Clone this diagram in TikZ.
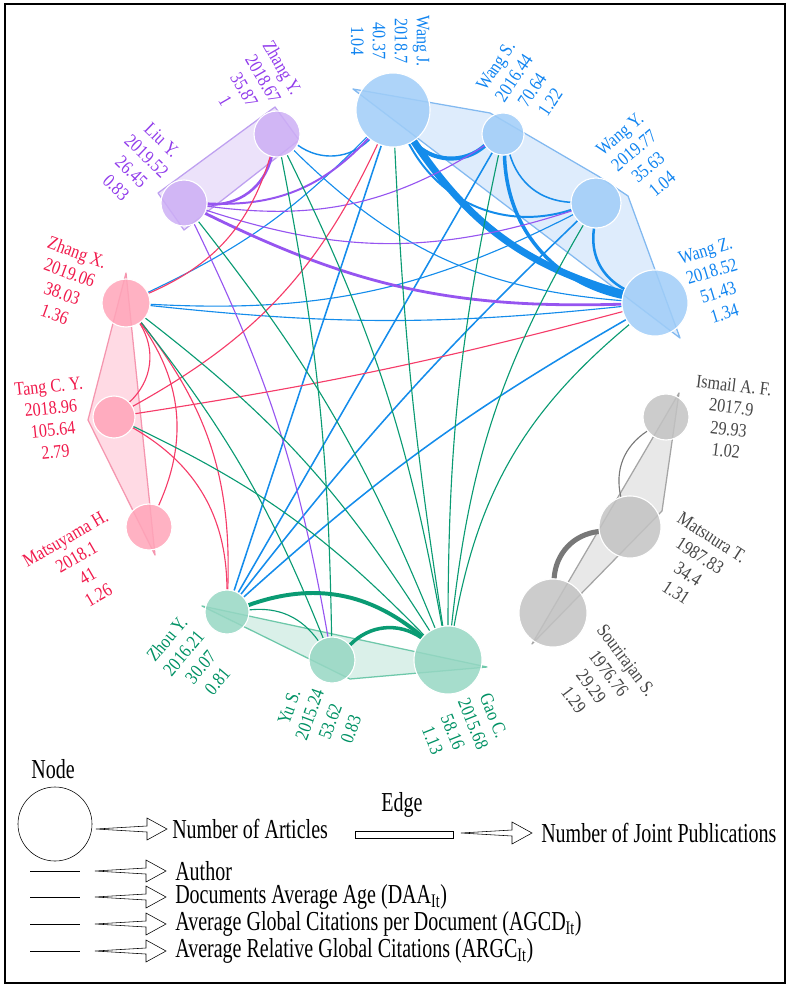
\documentclass[tikz,border=0pt]{standalone}
\usepackage{fontspec}
\setmainfont{Liberation Serif}
\newfontfamily\labfont[FakeStretch=0.85]{Liberation Serif}
\newfontfamily\legfont[FakeStretch=0.73]{Liberation Serif}
\pgfdeclarelayer{back}
\pgfsetlayers{back,main}
\definecolor{btext}{RGB}{16,132,240}
\definecolor{bfill}{RGB}{160,205,248}
\definecolor{bhull}{RGB}{222,236,252}
\definecolor{bline}{RGB}{130,185,240}
\definecolor{bedgec}{RGB}{20,140,235}
\definecolor{ptext}{RGB}{145,60,235}
\definecolor{pfill}{RGB}{205,175,245}
\definecolor{phull}{RGB}{236,226,250}
\definecolor{pline}{RGB}{190,160,240}
\definecolor{pedgec}{RGB}{150,85,240}
\definecolor{rtext}{RGB}{240,25,75}
\definecolor{rfill}{RGB}{255,165,185}
\definecolor{rhull}{RGB}{255,218,228}
\definecolor{rline}{RGB}{245,150,175}
\definecolor{redgec}{RGB}{245,60,105}
\definecolor{gtext}{RGB}{0,145,100}
\definecolor{gfill}{RGB}{150,215,195}
\definecolor{ghull}{RGB}{218,240,233}
\definecolor{gline}{RGB}{110,200,170}
\definecolor{gedgec}{RGB}{10,155,115}
\definecolor{ytext}{RGB}{70,70,70}
\definecolor{yfill}{RGB}{195,195,195}
\definecolor{yhull}{RGB}{232,232,232}
\definecolor{yline}{RGB}{165,165,165}
\definecolor{yedgec}{RGB}{120,120,120}
\newcommand\legarrow[2]{\draw (#1,#2) -- ++(51,-3) -- ++(0,-8) -- ++(20,11) -- ++(-20,11) -- ++(0,-8) -- cycle;}
\begin{document}
\begin{tikzpicture}[x=0.025cm,y=-0.025cm,
  author/.style={circle,inner sep=0pt,draw=white,line width=0.8pt,fill opacity=0.85},
  lab/.style={font=\labfont\fontsize{13.5}{15.6}\selectfont,align=center,inner sep=0pt},
  legtext/.style={font=\legfont\fontsize{19.5}{22}\selectfont,inner sep=0pt},
  hull/.style={line width=0.9pt,line join=round},
  bedge/.style={draw=bedgec,line width=0.8pt},
  pedge/.style={draw=pedgec,line width=0.8pt},
  redge/.style={draw=redgec,line width=0.8pt},
  gedge/.style={draw=gedgec,line width=0.8pt},
  yedge/.style={draw=yedgec,line width=0.8pt}]
\useasboundingbox (0,0) rectangle (789,992);
\draw[line width=1.3pt] (5,4) rectangle (785,983);

\node[author,fill=bfill,minimum size=1.85cm] (wj) at (393,110) {};
\node[author,fill=bfill,minimum size=1.05cm] (ws) at (503,134) {};
\node[author,fill=bfill,minimum size=1.25cm] (wy) at (596,203) {};
\node[author,fill=bfill,minimum size=1.65cm] (wz) at (655,303) {};
\node[author,fill=yfill,minimum size=1.15cm] (ism) at (666,417) {};
\node[author,fill=yfill,minimum size=1.55cm] (mtr) at (630,527) {};
\node[author,fill=yfill,minimum size=1.7cm] (sou) at (553,613) {};
\node[author,fill=gfill,minimum size=1.7cm] (gao) at (448,660) {};
\node[author,fill=gfill,minimum size=1.15cm] (yu) at (332,660) {};
\node[author,fill=gfill,minimum size=1.1cm] (zh) at (227,612) {};
\node[author,fill=rfill,minimum size=1.15cm] (mty) at (149,527) {};
\node[author,fill=rfill,minimum size=1.05cm] (tang) at (114,417) {};
\node[author,fill=rfill,minimum size=1.2cm] (zx) at (126,303) {};
\node[author,fill=pfill,minimum size=1.15cm] (liu) at (184,203) {};
\node[author,fill=pfill,minimum size=1.15cm] (zy) at (277,134) {};

\node[lab,text=btext,rotate=-90] (wjl) at (390,41) {Wang J.\\2018.7\\40.37\\1.04};
\node[lab,text=btext,rotate=56] (wsl) at (523,84) {Wang S.\\2016.44\\70.64\\1.22};
\node[lab,text=btext,rotate=40] (wyl) at (641,159) {Wang Y.\\2019.77\\35.63\\1.04};
\node[lab,text=btext,rotate=17] (wzl) at (715,282) {Wang Z.\\2018.52\\51.43\\1.34};
\node[lab,text=ytext,rotate=-7] (isml) at (730,418) {Ismail A. F.\\2017.9\\29.93\\1.02};
\node[lab,text=ytext,rotate=-33] (mtrl) at (694,565) {Matsuura T.\\1987.83\\34.4\\1.31};
\node[lab,text=ytext,rotate=-53] (soul) at (600,680) {Sourirajan S.\\1976.76\\29.29\\1.29};
\node[lab,text=gtext,rotate=-68] (gaol) at (463,728) {Gao C.\\2015.68\\58.16\\1.13};
\node[lab,text=gtext,rotate=70] (yul) at (320,718) {Yu S.\\2015.24\\53.62\\0.83};
\node[lab,text=gtext,rotate=50] (zhl) at (192,660) {Zhou Y.\\2016.21\\30.07\\0.81};
\node[lab,text=rtext,rotate=30] (mtyl) at (82,567) {Matsuyama H.\\2018.1\\41\\1.26};
\node[lab,text=rtext,rotate=6] (tangl) at (52,419) {Tang C. Y.\\2018.96\\105.64\\2.79};
\node[lab,text=rtext,rotate=-20] (zxl) at (66,283) {Zhang X.\\2019.06\\38.03\\1.36};
\node[lab,text=ptext,rotate=-44] (liul) at (139,164) {Liu Y.\\2019.52\\26.45\\0.83};
\node[lab,text=ptext,rotate=-60] (zyl) at (254,84) {Zhang Y.\\2018.67\\35.87\\1};

\begin{pgfonlayer}{back}
\filldraw[hull,fill=bhull,draw=bline] (353,89) -- (490,113) -- (598,176) -- (628,196) -- (680,338) -- cycle;
\filldraw[hull,fill=phull,draw=pline] (158,193) -- (275,107) -- (299,140) -- (184,230) -- cycle;
\filldraw[hull,fill=rhull,draw=rline] (126,273) -- (155,555) -- (88,420) -- cycle;
\filldraw[hull,fill=ghull,draw=gline] (202,606) -- (487,667) -- (350,679) -- cycle;
\filldraw[hull,fill=yhull,draw=yline] (679,393) -- (662,511) -- (532,644) -- cycle;

\draw[bedge,line width=2.9pt] (wj) to[bend right=45] (ws);
\draw[bedge,line width=1.4pt] (wj) to[bend right=40] (wy);
\draw[bedge,line width=5pt] (wj) to[bend right=20] (wz);
\draw[bedge,line width=1.1pt] (ws) to[bend right=35] (wy);
\draw[bedge,line width=2.5pt] (ws) to[bend right=38] (wz);
\draw[bedge,line width=1.8pt] (wy) to[bend right=35] (wz);
\draw[bedge,line width=1pt] (zy) to[bend right=40] (wj);
\draw[bedge] (zx) to[bend right=10] (wj);
\draw[bedge] (zx) to[bend right=15] (wy);
\draw[bedge] (zx) to[bend right=6] (wz);
\draw[bedge] (zy) to[bend right=20] (wz);
\draw[bedge,line width=1.1pt] (zh) -- (wj);
\draw[bedge,line width=1.1pt] (zh) -- (ws);
\draw[bedge,line width=1.1pt] (zh) to[bend left=4] (wy);
\draw[bedge,line width=1.1pt] (zh) to[bend left=6] (wz);

\draw[pedge,line width=1.8pt] (liu) to[bend right=40] (zy);
\draw[pedge,line width=1.4pt] (liu) to[bend right=25] (wj);
\draw[pedge] (liu) to[bend right=20] (ws);
\draw[pedge] (liu) to[bend right=18] (wy);
\draw[pedge,line width=2pt] (liu) to[bend right=14] (wz);
\draw[pedge] (liu) to[bend left=8] (yu);

\draw[redge] (zx) to[bend right=25] (zy);
\draw[redge] (tang) to[bend right=18] (wj);
\draw[redge] (tang) to[bend right=3] (wz);
\draw[redge] (tang) to[bend right=40] (zx);
\draw[redge] (zx) to[bend left=30] (mty);
\draw[redge] (zx) to[bend left=20] (zh);
\draw[redge] (tang) to[bend left=30] (zh);

\draw[gedge,line width=2.8pt] (zh) to[bend left=30] (gao);
\draw[gedge,line width=2.5pt] (yu) to[bend left=40] (gao);
\draw[gedge] (zh) to[bend left=30] (yu);
\draw[gedge] (gao) to[bend left=3] (wj);
\draw[gedge] (gao) to[bend left=6] (ws);
\draw[gedge] (gao) to[bend left=12] (wy);
\draw[gedge] (gao) to[bend left=20] (wz);
\draw[gedge] (gao) to[bend right=8] (zy);
\draw[gedge] (gao) to[bend right=8] (liu);
\draw[gedge] (gao) to[bend right=10] (zx);
\draw[gedge] (tang) to[bend left=10] (gao);
\draw[gedge] (yu) to[bend right=5] (zy);
\draw[gedge] (yu) to[bend right=8] (zx);

\draw[yedge] (ism) to[bend right=35] (mtr);
\draw[yedge,line width=3.6pt] (mtr) to[bend right=40] (sou);
\end{pgfonlayer}

\node[legtext] (nodet) at (53,769) {Node};
\node[draw,circle,inner sep=0pt,minimum size=1.85cm] (legc) at (55,824) {};
\legarrow{96}{829}
\node[legtext,anchor=west] (art) at (172,829) {Number of Articles};
\node[legtext] (edget) at (402,805) {Edge};
\node[draw,inner sep=0pt,minimum width=2.45cm,minimum height=0.18cm] (legr) at (404,835) {};
\legarrow{461}{833}
\node[legtext,anchor=west] (jp) at (541,833) {Number of Joint Publications};
\draw (30,871) -- (80,871);
\legarrow{95}{871}
\node[legtext,anchor=west] (aut) at (175,871) {Author};
\draw (30,897) -- (80,897);
\legarrow{95}{897}
\node[legtext,anchor=west] (daa) at (175,897) {Documents Average Age (DAA\textsubscript{It})};
\draw (30,924) -- (80,924);
\legarrow{95}{924}
\node[legtext,anchor=west] (agcd) at (175,924) {Average Global Citations per Document (AGCD\textsubscript{It})};
\draw (30,951) -- (80,951);
\legarrow{95}{951}
\node[legtext,anchor=west] (argc) at (175,951) {Average Relative Global Citations (ARGC\textsubscript{It})};
\end{tikzpicture}
\end{document}
